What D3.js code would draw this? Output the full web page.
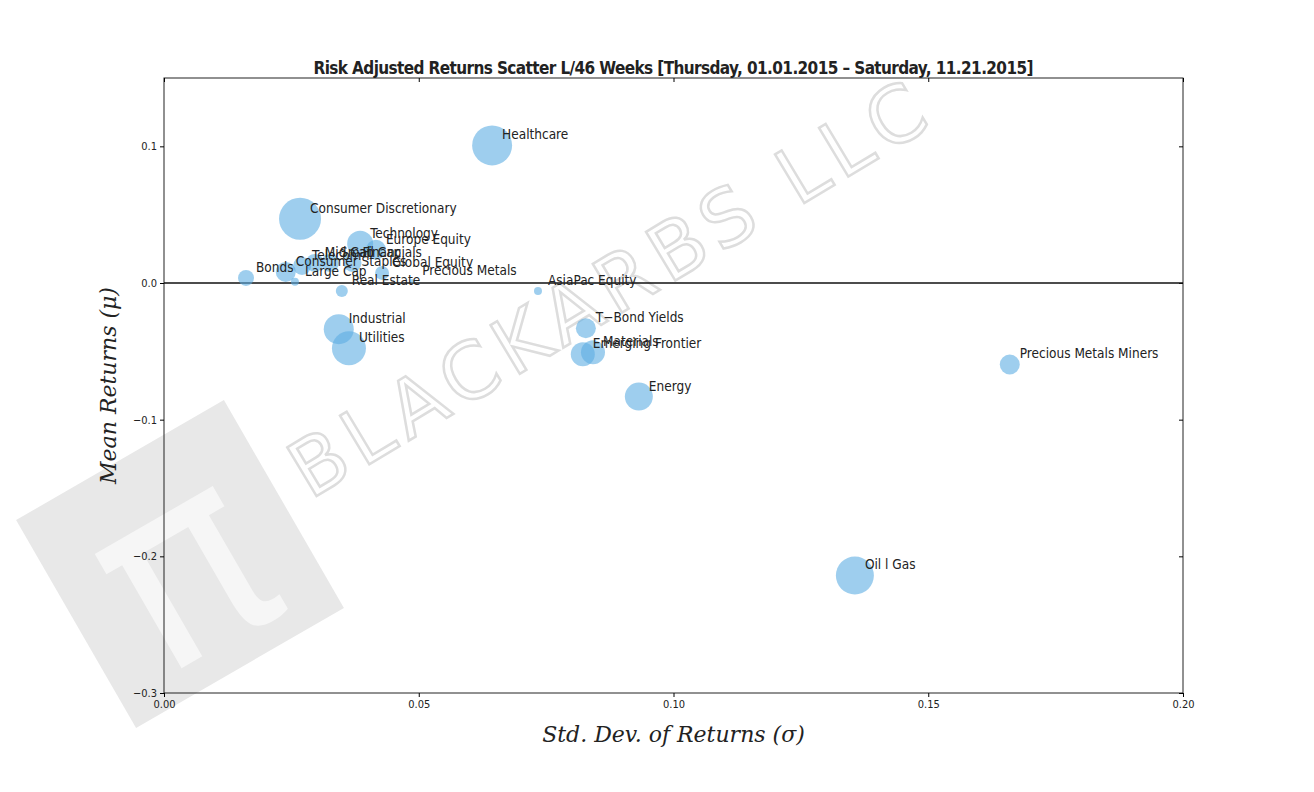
<!DOCTYPE html><html><head><meta charset="utf-8"><script src="https://cdn.jsdelivr.net/npm/d3@7"></script>
<style>body{margin:0;background:#fff}</style></head><body>
<svg id="c" width="1314" height="792" style="font-family:'DejaVu Sans Condensed','DejaVu Sans',sans-serif"></svg>
<script>
const names=["Healthcare","Consumer Discretionary","Technology","Europe Equity","Mid Cap","Small Cap","Financials","Telecom","Consumer Staples","Global Equity","Large Cap","Precious Metals","Real Estate","Bonds","AsiaPac Equity","Industrial","Utilities","T-Bond Yields","Emerging Frontier","Materials","Energy","Oil | Gas","Precious Metals Miners"];
const labels=["Healthcare","Consumer Discretionary","Technology","Europe Equity","Mid Cap","Small Cap","Financials","Telecom","Consumer Staples","Global Equity","Large Cap","Precious Metals","Real Estate","Bonds","AsiaPac Equity","Industrial","Utilities","T−Bond Yields","Emerging Frontier","Materials","Energy","Oil l Gas","Precious Metals Miners"];
const stdDev=[0.0644,0.0267,0.0385,0.0416,0.0296,0.0326,0.0370,0.0271,0.0239,0.0428,0.0257,0.0487,0.0349,0.0161,0.0734,0.0343,0.0363,0.0828,0.0822,0.0842,0.0932,0.1356,0.166];
const meanRet=[0.1007,0.047,0.0287,0.0243,0.0147,0.0147,0.0147,0.0125,0.0081,0.0074,0.001,0.0015,-0.0059,0.0037,-0.0059,-0.0338,-0.0478,-0.0331,-0.0522,-0.0507,-0.0831,-0.214,-0.0596];
const bubble=[20,21,13,10,9,9,9,9,10,7,4,2,6,8,4,15,17,10,12,12,14,19,10];
const xTicks=[0,0.05,0.1,0.15,0.2], yTicks=[-0.3,-0.2,-0.1,0,0.1];
const svg=d3.select("#c");
const L=164,R=1183,T=78,B=693;
const x=d3.scaleLinear().domain([0,0.2]).range([L,R]);
const y=d3.scaleLinear().domain([-0.3,0.15]).range([B,T]);
const wm=svg.append("g");
wm.append("text").attr("transform","translate(310,500) rotate(-31)").style("font-size","78px").style("font-family","DejaVu Sans").attr("fill","none").attr("stroke","#ddd").attr("stroke-width",2.5).attr("letter-spacing",8).text("BLACKARBS LLC");
wm.append("rect").attr("x",-120).attr("y",-120).attr("width",240).attr("height",240).attr("transform","translate(180,564) rotate(-30)").attr("fill","#e8e8e8");
wm.append("text").attr("transform","translate(180,564) rotate(-30)").attr("text-anchor","middle").attr("dy","0.35em").style("font-size","260px").style("font-family","'DejaVu Sans'").attr("fill","#f6f6f6").text("π");
const g=svg.append("g");
g.append("rect").attr("x",L).attr("y",T).attr("width",R-L).attr("height",B-T).attr("fill","none").attr("stroke","#222");
g.append("g").attr("transform",`translate(0,${B})`).call(d3.axisBottom(x).tickValues(xTicks).tickFormat(d3.format(".2f")).tickSize(4)).call(a=>a.select(".domain").remove());
g.append("g").attr("transform",`translate(0,${T})`).call(d3.axisTop(x).tickValues(xTicks).tickFormat("").tickSize(-4)).call(a=>a.select(".domain").remove());
g.append("g").attr("transform",`translate(${L},0)`).call(d3.axisLeft(y).tickValues(yTicks).tickFormat(d=>d===0?"0.0":d3.format(".1f")(d).replace("-","−")).tickSize(4)).call(a=>a.select(".domain").remove());
g.append("g").attr("transform",`translate(${R},0)`).call(d3.axisRight(y).tickValues(yTicks).tickFormat("").tickSize(-4)).call(a=>a.select(".domain").remove());
g.selectAll(".tick text").style("font-size","11px").style("font-family","'DejaVu Sans Condensed'").attr("fill","#222");
g.append("line").attr("x1",L).attr("x2",R).attr("y1",y(0)).attr("y2",y(0)).attr("stroke","#111").attr("stroke-width",1.6);
const idx=d3.range(names.length);
g.selectAll("circle.b").data(idx).join("circle").attr("class","b").attr("cx",i=>x(stdDev[i])).attr("cy",i=>y(meanRet[i])).attr("r",i=>bubble[i]).attr("fill","#5dade2").attr("fill-opacity",0.6);
g.selectAll("text.l").data(idx).join("text").attr("class","l").attr("x",i=>x(stdDev[i])+10).attr("y",i=>y(meanRet[i])-6).style("font-size","13.5px").attr("fill","#222").text(i=>labels[i]);
svg.append("text").attr("x",(L+R)/2).attr("y",74).attr("text-anchor","middle").style("font-size","17px").attr("font-weight","bold").attr("fill","#222").attr("textLength",720).text("Risk Adjusted Returns Scatter L/46 Weeks [Thursday, 01.01.2015 – Saturday, 11.21.2015]");
svg.append("text").attr("x",(L+R)/2).attr("y",742).attr("text-anchor","middle").style("font-size","22px").style("font-style","italic").style("font-family","'DejaVu Serif'").attr("fill","#222").text("Std. Dev. of Returns  (σ)");
svg.append("text").attr("transform",`translate(116,${(T+B)/2}) rotate(-90)`).attr("text-anchor","middle").style("font-size","22px").style("font-style","italic").style("font-family","'DejaVu Serif'").attr("fill","#222").text("Mean Returns  (μ)");
</script></body></html>
